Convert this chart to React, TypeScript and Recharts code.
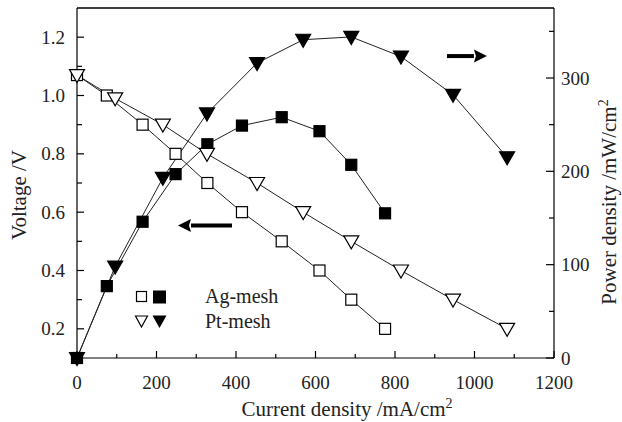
import {
  ComposedChart,
  Line,
  Scatter,
  XAxis,
  YAxis,
  ReferenceLine,
  Label
} from 'recharts';

const FONT = '"Liberation Serif", "Times New Roman", serif';

// Current density (mA/cm2) and readings for each electrode
const agCurrent = [0, 75, 165, 248, 328, 415, 515, 610, 690, 775];
const agVoltage = [1.07, 1.0, 0.9, 0.8, 0.7, 0.6, 0.5, 0.4, 0.3, 0.2];
const agPower = [0, 77, 146, 197, 229, 249, 258, 243, 207, 155];

const ptCurrent = [0, 96, 216, 327, 453, 569, 690, 815, 946, 1082];
const ptVoltage = [1.07, 0.99, 0.9, 0.8, 0.7, 0.6, 0.5, 0.4, 0.3, 0.2];
const ptPower = [0, 98, 193, 262, 316, 341, 344, 323, 282, 215];

const xTicks = [0, 100, 200, 300, 400, 500, 600, 700, 800, 900, 1000, 1100, 1200];
const voltTicks = [0.2, 0.3, 0.4, 0.5, 0.6, 0.7, 0.8, 0.9, 1.0, 1.1, 1.2];
const powerTicks = [0, 50, 100, 150, 200, 250, 300, 350];

const voltArrow = [{ x: 322, y: 0.554 }];
const powerArrow = [{ x: 981, y: 323.5 }];

const agVoltData = agCurrent.map((x, i) => ({ x, y: agVoltage[i] }));
const agPowData = agCurrent.map((x, i) => ({ x, y: agPower[i] }));
const ptVoltData = ptCurrent.map((x, i) => ({ x, y: ptVoltage[i] }));
const ptPowData = ptCurrent.map((x, i) => ({ x, y: ptPower[i] }));

function squareDot(filled: boolean) {
  return (props: any) => {
    const { cx, cy, index } = props;
    if (cx == null || cy == null) return <g key={index} />;
    return (
      <rect
        key={index}
        x={cx - 5.5}
        y={cy - 5.5}
        width={11}
        height={11}
        fill={filled ? '#000' : '#fff'}
        stroke="#000"
        strokeWidth={1.2}
      />
    );
  };
}

function triangleDot(filled: boolean) {
  return (props: any) => {
    const { cx, cy, index } = props;
    if (cx == null || cy == null) return <g key={index} />;
    return (
      <path
        key={index}
        d={`M${cx - 7.5},${cy - 5.5} L${cx + 7.5},${cy - 5.5} L${cx},${cy + 7.5} Z`}
        fill={filled ? '#000' : '#fff'}
        stroke="#000"
        strokeWidth={1.2}
      />
    );
  };
}

function arrowShape(dir: number, length: number) {
  return (props: any) => {
    const { cx, cy } = props;
    const half = length / 2;
    const tip = cx + dir * half;
    const base = tip - dir * 13;
    return (
      <g>
        <line x1={cx - dir * half} y1={cy} x2={base} y2={cy} stroke="#000" strokeWidth={4} />
        <path d={`M${tip},${cy} L${base},${cy - 6.5} L${base + dir * 2},${cy} L${base},${cy + 6.5} Z`} fill="#000" />
      </g>
    );
  };
}

function xTick(props: any) {
  const { x, y, payload } = props;
  const major = payload.value % 200 === 0;
  return (
    <g>
      <line x1={x} y1={y} x2={x} y2={y - (major ? 7 : 4)} stroke="#000" strokeWidth={1.2} />
      {major && (
        <text x={x} y={y + 31} textAnchor="middle" fontSize={19} fontFamily={FONT} fill="#222">
          {payload.value}
        </text>
      )}
    </g>
  );
}

function voltTick(props: any) {
  const { x, y, payload } = props;
  const major = Math.round(payload.value * 10) % 2 === 0;
  return (
    <g>
      <line x1={x} y1={y} x2={x + (major ? 7 : 5)} y2={y} stroke="#000" strokeWidth={1.2} />
      {major && (
        <text x={x - 12} y={y + 6.5} textAnchor="end" fontSize={19} fontFamily={FONT} fill="#222">
          {payload.value.toFixed(1)}
        </text>
      )}
    </g>
  );
}

function powerTick(props: any) {
  const { x, y, payload } = props;
  const major = payload.value % 100 === 0;
  return (
    <g>
      <line x1={x} y1={y} x2={x - (major ? 8 : 5)} y2={y} stroke="#000" strokeWidth={1.2} />
      {major && (
        <text x={x + 7} y={y + 6.5} textAnchor="start" fontSize={19} fontFamily={FONT} fill="#222">
          {payload.value}
        </text>
      )}
    </g>
  );
}

function LegendRow({ filled, label }: { filled: 'square' | 'triangle'; label: string }) {
  const tri = filled === 'triangle';
  return (
    <div style={{ display: 'flex', alignItems: 'center', height: 25 }}>
      <svg width={34} height={16}>
        {tri ? (
          <>
            <path d="M1.5,2 L13.5,2 L7.5,13 Z" fill="#fff" stroke="#000" strokeWidth={1.2} />
            <path d="M18.5,1.5 L32.5,1.5 L25.5,14 Z" fill="#000" />
          </>
        ) : (
          <>
            <rect x={2.5} y={2.5} width={10} height={10} fill="#fff" stroke="#000" strokeWidth={1.2} />
            <rect x={19} y={1.5} width={13} height={13} fill="#000" />
          </>
        )}
      </svg>
      <span style={{ fontFamily: FONT, fontSize: 20, color: '#222', marginLeft: 37 }}>{label}</span>
    </div>
  );
}

export default function App() {
  return (
    <div style={{ position: 'absolute', left: 0, top: 0, width: 622, height: 422, background: '#fff' }}>
      <ComposedChart width={622} height={422} margin={{ top: 8, right: 0, bottom: 0, left: 0 }}>
        <XAxis
          type="number"
          dataKey="x"
          domain={[0, 1200]}
          ticks={xTicks}
          interval={0}
          tickSize={0}
          tickMargin={0}
          tick={xTick}
          height={64}
          stroke="#000"
          strokeWidth={1.2}
        >
          <Label
            content={(props: any) => {
              const vb = props.viewBox;
              return (
                <text x={vb.x + 270} y={416} textAnchor="middle" fontSize={21} fontFamily={FONT} fill="#222">
                  Current density /mA/cm<tspan dy={-8} fontSize={14}>2</tspan>
                </text>
              );
            }}
          />
        </XAxis>
        <YAxis
          yAxisId="v"
          type="number"
          dataKey="y"
          domain={[0.1, 1.3]}
          ticks={voltTicks}
          interval={0}
          tickSize={0}
          tickMargin={0}
          tick={voltTick}
          width={77}
          stroke="#000"
          strokeWidth={1.2}
        >
          <Label
            content={() => (
              <text
                x={26}
                y={195}
                transform="rotate(-90 26 195)"
                textAnchor="middle"
                fontSize={21}
                fontFamily={FONT}
                fill="#222"
              >
                Voltage /V
              </text>
            )}
          />
        </YAxis>
        <YAxis
          yAxisId="p"
          orientation="right"
          type="number"
          dataKey="y"
          domain={[0, 375]}
          ticks={powerTicks}
          interval={0}
          tickSize={0}
          tickMargin={0}
          tick={powerTick}
          width={68}
          stroke="#000"
          strokeWidth={1.2}
        >
          <Label
            content={() => (
              <text
                x={616}
                y={202}
                transform="rotate(-90 616 202)"
                textAnchor="middle"
                fontSize={21}
                fontFamily={FONT}
                fill="#222"
              >
                Power density /mW/cm<tspan dy={-8} fontSize={14}>2</tspan>
              </text>
            )}
          />
        </YAxis>
        <ReferenceLine yAxisId="v" y={1.3} stroke="#000" strokeWidth={1.5} ifOverflow="visible" />

        <Line
          yAxisId="v"
          data={agVoltData}
          dataKey="y"
          stroke="#222"
          strokeWidth={1}
          dot={squareDot(false)}
          activeDot={false}
          isAnimationActive={false}
        />
        <Line
          yAxisId="p"
          data={agPowData}
          dataKey="y"
          stroke="#222"
          strokeWidth={1}
          dot={squareDot(true)}
          activeDot={false}
          isAnimationActive={false}
        />
        <Line
          yAxisId="v"
          data={ptVoltData}
          dataKey="y"
          stroke="#222"
          strokeWidth={1}
          dot={triangleDot(false)}
          activeDot={false}
          isAnimationActive={false}
        />
        <Line
          yAxisId="p"
          data={ptPowData}
          dataKey="y"
          stroke="#222"
          strokeWidth={1}
          dot={triangleDot(true)}
          activeDot={false}
          isAnimationActive={false}
        />
        <Scatter yAxisId="v" data={voltArrow} dataKey="y" shape={arrowShape(-1, 54)} isAnimationActive={false} />
        <Scatter yAxisId="p" data={powerArrow} dataKey="y" shape={arrowShape(1, 40)} isAnimationActive={false} />
      </ComposedChart>
      <div style={{ position: 'absolute', left: 134, top: 284 }}>
        <LegendRow filled="square" label="Ag-mesh" />
        <LegendRow filled="triangle" label="Pt-mesh" />
      </div>
    </div>
  );
}
